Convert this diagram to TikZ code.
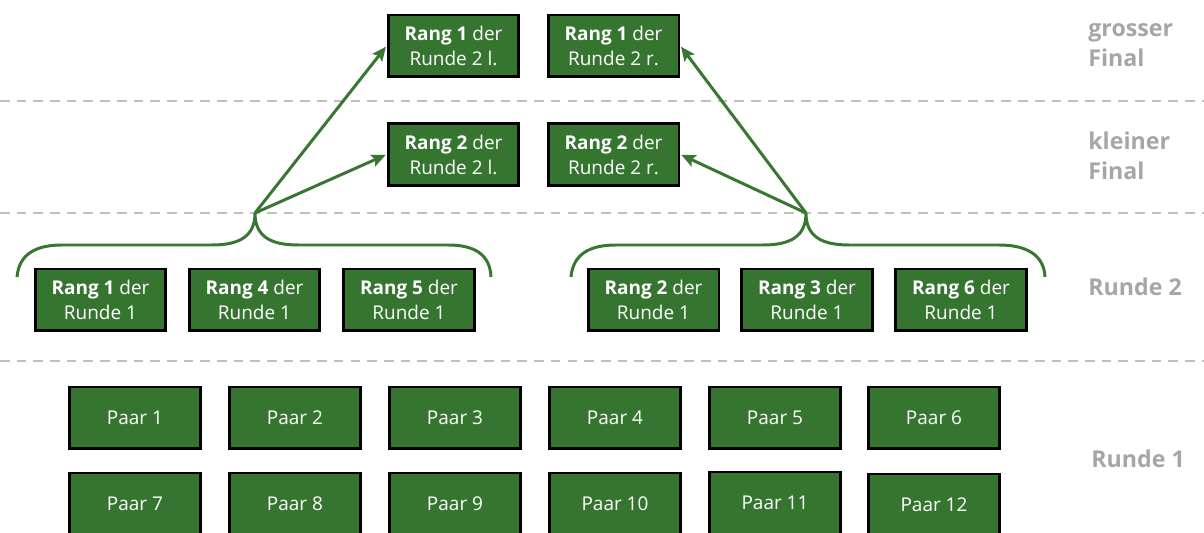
\documentclass[tikz,border=0pt]{standalone}
\usepackage{fontspec}
\setmainfont{Open Sans}
\usetikzlibrary{arrows.meta,positioning}

\definecolor{boxgreen}{RGB}{53,117,48}
\definecolor{linegreen}{RGB}{56,118,50}
\definecolor{sepgray}{RGB}{191,191,191}
\definecolor{labelgray}{RGB}{166,166,166}

\begin{document}
\begin{tikzpicture}[x=0.02cm, y=-0.02cm]
    % --- Styles ---
    \tikzset{
        teambox/.style={draw=black, line width=1.7pt, fill=boxgreen, text=white,
            minimum width=2.62cm, minimum height=1.24cm, align=center,
            font=\fontsize{10.8}{14.2}\selectfont, inner sep=1pt},
        separator/.style={sepgray, line width=1.1pt, dash pattern=on 5.5pt off 4pt},
        roundlabel/.style={text=labelgray, font=\fontsize{13.2}{17.2}\selectfont\bfseries,
            align=left, anchor=west, inner sep=0pt},
        bracket/.style={linegreen, line width=1.7pt},
        advance/.style={linegreen, line width=1.7pt,
            -{Stealth[length=8pt, width=7pt, inset=1.5pt]}, shorten >=0.5pt}
    }
    \useasboundingbox (0,0) rectangle (1204,533);

    % --- 1. Separators ---
    \draw[separator] (0,101) -- (1204,101);
    \draw[separator] (0,213) -- (1204,213);
    \draw[separator] (0,361) -- (1204,361);

    % --- 2. Finals ---
    \node[teambox] (r1l) at (453.5,46) {\textbf{Rang 1} der\\Runde 2 l.};
    \node[teambox] (r1r) at (613.5,46) {\textbf{Rang 1} der\\Runde 2 r.};
    \node[teambox] (r2l) at (453.5,154.5) {\textbf{Rang 2} der\\Runde 2 l.};
    \node[teambox] (r2r) at (613.5,154.5) {\textbf{Rang 2} der\\Runde 2 r.};

    % --- 3. Round 2 groups ---
    \node[teambox] (g1) at (100.5,300) {\textbf{Rang 1} der\\Runde 1};
    \node[teambox] (g4) at (254.5,300) {\textbf{Rang 4} der\\Runde 1};
    \node[teambox] (g5) at (409,300) {\textbf{Rang 5} der\\Runde 1};
    \node[teambox] (g2) at (653.5,300) {\textbf{Rang 2} der\\Runde 1};
    \node[teambox] (g3) at (807,300) {\textbf{Rang 3} der\\Runde 1};
    \node[teambox] (g6) at (961,300) {\textbf{Rang 6} der\\Runde 1};

    % brackets over the groups
    \coordinate (tipL) at (255,213);
    \coordinate (tipR) at (806,213);
    \draw[bracket] (17,277) .. controls (19,254) and (36,245) .. (62,245) -- (212,245)
        .. controls (240,245) and (255,236) .. (tipL)
        .. controls (255,236) and (270,245) .. (298,245) -- (448,245)
        .. controls (474,245) and (490,254) .. (491,277);
    \draw[bracket] (571,277) .. controls (573,254) and (590,245) .. (616,245) -- (763,245)
        .. controls (791,245) and (806,236) .. (tipR)
        .. controls (806,236) and (821,245) .. (849,245) -- (999,245)
        .. controls (1025,245) and (1044,254) .. (1045,277);

    % --- 4. Arrows to the finals ---
    \draw[advance] (tipL) -- (r1l.west);
    \draw[advance] (tipL) -- (r2l.west);
    \draw[advance] (tipR) -- (r1r.east);
    \draw[advance] (tipR) -- (r2r.east);

    % --- 5. Round 1 pairs ---
    \foreach \i/\x in {1/135, 2/295, 3/455, 4/615, 5/775, 6/934}
        \node[teambox] (p\i) at (\x,418) {Paar \i};
    \foreach \i/\x/\y in {7/135/504, 8/295/504, 9/455/504, 10/615/504, 11/775/503, 12/934/505}
        \node[teambox] (p\i) at (\x,\y) {Paar \i};

    % --- 6. Round labels ---
    \node[roundlabel] (lgross) at (1088,45) {grosser\\Final};
    \node[roundlabel] (lklein) at (1088,156) {kleiner\\Final};
    \node[roundlabel] (lr2) at (1088,287) {Runde 2};
    \node[roundlabel] (lr1) at (1091,459) {Runde 1};
\end{tikzpicture}
\end{document}
